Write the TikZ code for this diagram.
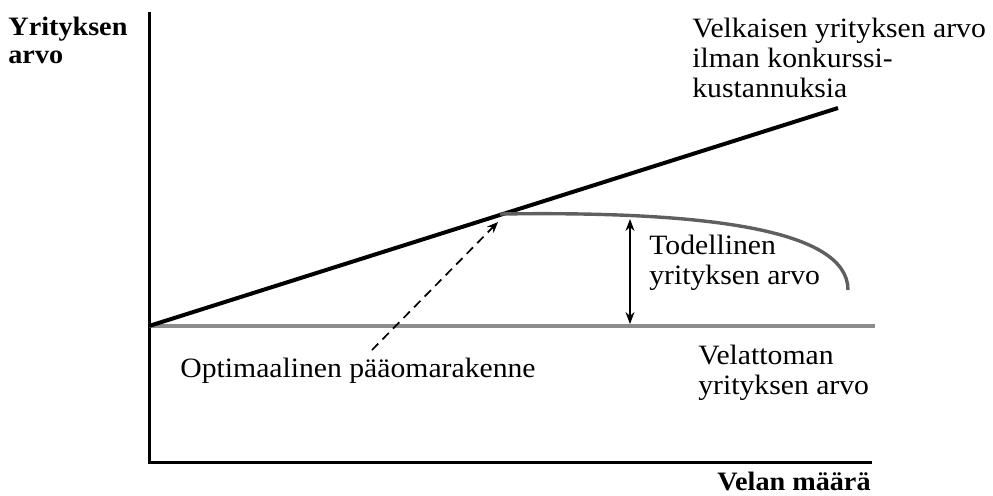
\documentclass[tikz,border=0pt]{standalone}
\usepackage{fontspec}
\setmainfont{Liberation Serif}[FakeStretch=1.06]
\usepackage{tikz}
\usetikzlibrary{arrows,arrows.meta,calc}
\definecolor{unlevered_gray}{RGB}{140,140,140}
\definecolor{curve_gray}{RGB}{95,95,95}
\tikzstyle{plain_text} = [inner sep=0pt, anchor=north west, align=left, font=\fontsize{14}{15}\selectfont]
\tikzstyle{bold_text} = [plain_text, font=\fontsize{13.3}{14}\selectfont\bfseries]
\tikzstyle{axis_line} = [line width=1.5pt, black]
\tikzstyle{arrow} = [semithick,<->,>={Stealth[length=6pt,width=4.5pt]}]
\tikzstyle{dash_arrow} = [line width=0.85pt,dash pattern=on 4.5pt off 3pt,->,>={Stealth[length=5.5pt,width=4.5pt]}]

\begin{document}
\begin{tikzpicture}[x=0.5pt,y=-0.5pt]
    \useasboundingbox (0,0) rectangle (993,495);

    % axes
    \coordinate (y_top) at (149,12);
    \coordinate (corner) at (149,462);
    \coordinate (x_end) at (872,462);
    \draw[axis_line] (y_top) -- (corner) -- (x_end);

    \node (y_axis_label) [bold_text] at (8,17) {Yrityksen\\arvo};
    \node (x_axis_label) [bold_text, anchor=north east] at (871,472) {Velan määrä};

    % unlevered firm
    \coordinate (origin) at (149,326);
    \coordinate (unlevered_end) at (875,326);
    \draw[line width=2pt, unlevered_gray] (origin) -- (unlevered_end);

    % levered firm without bankruptcy costs
    \coordinate (levered_end) at (838,108);
    \draw[line width=2pt] (origin) -- (levered_end);

    % actual value of the firm
    \coordinate (optimum) at (500,214);
    \coordinate (curve_end) at (848,290);
    \draw[line width=1.7pt, curve_gray] (optimum) .. controls (700,211) and (848,228) .. (curve_end);

    \coordinate (peak_top) at (630,219);
    \coordinate (peak_bottom) at (630,324);
    \draw[arrow] (peak_top) -- (peak_bottom);

    \node (levered_label) [plain_text] at (692,18) {Velkaisen yrityksen arvo\\ilman konkurssi-\\kustannuksia};
    \node (actual_label) [plain_text] at (649,235) {Todellinen\\yrityksen arvo};
    \node (unlevered_label) [plain_text] at (698,345) {Velattoman\\yrityksen arvo};
    \node (optimum_label) [plain_text] at (180,358) {Optimaalinen pääomarakenne};

    \coordinate (dash_start) at (372,350);
    \coordinate (dash_end) at (498,222);
    \draw[dash_arrow] (dash_start) -- (dash_end);
\end{tikzpicture}
\end{document}
